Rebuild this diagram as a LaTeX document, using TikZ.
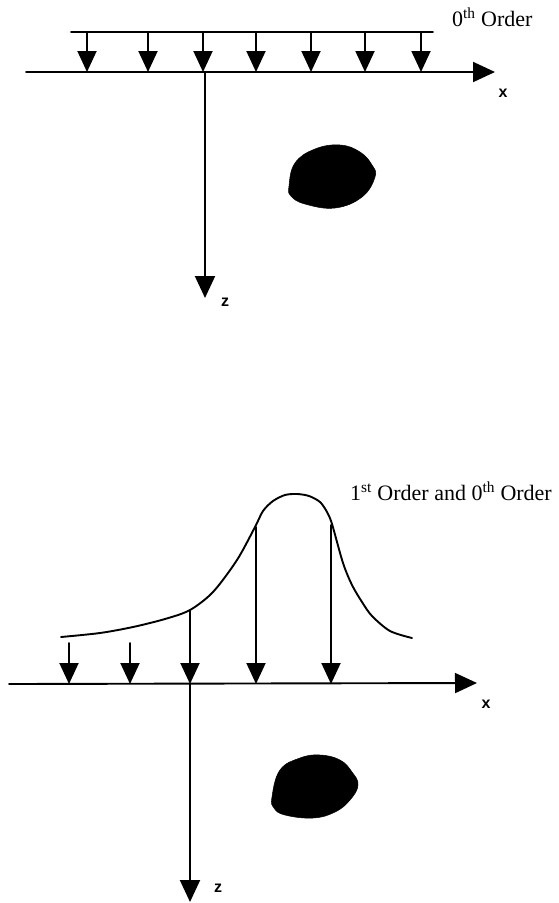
\documentclass[tikz,border=0pt]{standalone}
\usepackage{fontspec}
\setmainfont{Liberation Serif}
\newfontfamily\labfont{Liberation Sans}
\usetikzlibrary{arrows.meta}
\tikzset{
  ln/.style={line width=1.9pt, line cap=round},
  arr/.style={ln, -{Triangle[length=21pt,width=19pt]}},
  axis/.style={ln, -{Triangle[length=22pt,width=20pt]}},
  blob/.style={fill=black, draw=black, line width=0.5pt},
  ttl/.style={font=\fontsize{22}{26}\selectfont, inner sep=0pt},
  axlab/.style={font=\labfont\bfseries\fontsize{16}{18}\selectfont, inner sep=0pt}
}
\begin{document}
\begin{tikzpicture}[x=1pt,y=-1pt]
\useasboundingbox (0,0) rectangle (559,903);
% ---------- top panel ----------
\coordinate (L1) at (71,32);
\coordinate (L2) at (433,32);
\coordinate (X1) at (26,72);
\coordinate (X2) at (495,72);
\coordinate (O1) at (205,72);
\coordinate (Z1) at (205,298);
\draw[ln] (L1) -- (L2);
\draw[axis] (X1) -- (X2);
\draw[axis] (O1) -- (Z1);
\foreach \i/\x in {1/87,2/148,3/203,4/256,5/311,6/365,7/421}{
  \coordinate (ta\i) at (\x,32);
  \coordinate (ba\i) at (\x,72);
  \draw[arr] (ta\i) -- (ba\i);
}
\node[ttl, anchor=base west] (t1) at (452,26) {0\textsuperscript{th} Order};
\node[axlab] (xl1) at (503,93) {x};
\node[axlab] (zl1) at (225,302) {z};
\fill[blob] plot[smooth cycle, tension=0.7] coordinates {
  (289,186) (295,163) (315,149) (340,145) (360,152) (372,165) (375,177)
  (362,197) (335,208) (305,204) (291,196)};
% ---------- bottom panel ----------
\coordinate (X3) at (9,684);
\coordinate (X4) at (477,683);
\coordinate (O2) at (190,684);
\coordinate (Z2) at (190,902);
\draw[axis] (X3) -- (X4);
\draw[axis] (O2) -- (Z2);
\draw[ln] plot[smooth, tension=0.5] coordinates {
  (61,637) (100,633) (133,627) (165,619) (190,610) (213,592) (237,560)
  (255,527) (263,511) (273,501) (285,495) (297,494) (309,496) (320,502)
  (327,512) (332,524) (343,563) (352,585) (362,602) (372,616) (390,631)
  (412,638)};
\foreach \i/\x/\y in {1/69/643,2/130/643,3/190/610,4/256/527,5/331/525}{
  \coordinate (tb\i) at (\x,\y);
  \coordinate (bb\i) at (\x,684);
  \draw[arr] (tb\i) -- (bb\i);
}
\node[ttl, anchor=base west] (t2) at (350,500) {1\textsuperscript{st} Order and 0\textsuperscript{th} Order};
\node[axlab] (xl2) at (486,704) {x};
\node[axlab] (zl2) at (218,888) {z};
\fill[blob] plot[smooth cycle, tension=0.7] coordinates {
  (272,797) (280,770) (300,758) (320,755) (340,760) (352,772) (358,785)
  (350,800) (335,812) (313,818) (285,815) (274,808)};
\end{tikzpicture}
\end{document}
